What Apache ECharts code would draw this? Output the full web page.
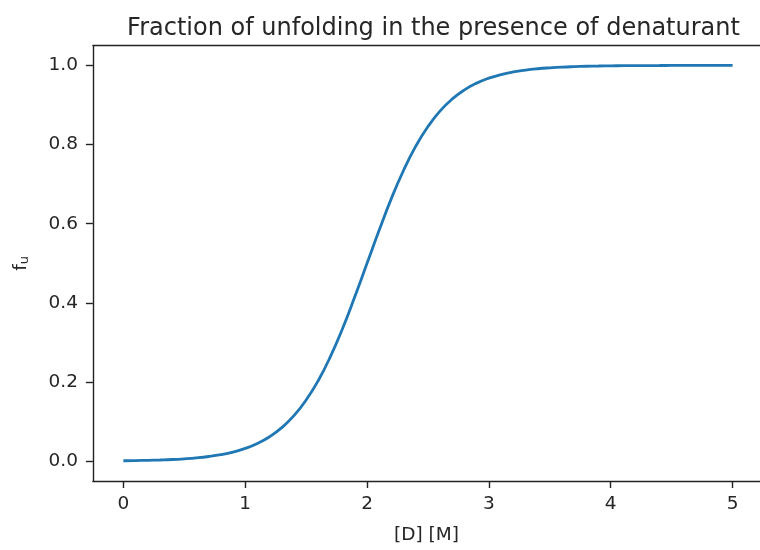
<!DOCTYPE html>
<html>
<head>
<meta charset="utf-8">
<script src="https://cdn.jsdelivr.net/npm/echarts@6/dist/echarts.min.js"></script>
<style>html,body{margin:0;padding:0;background:#fff;}#c{width:760px;height:550px;}</style>
</head>
<body>
<div id="c"></div>
<script>
const denaturant = [0.0,0.1,0.2,0.3,0.4,0.5,0.6,0.7,0.8,0.9,1.0,1.1,1.2,1.3,1.4,1.5,1.6,1.7,1.8,1.9,2.0,2.1,2.2,2.3,2.4,2.5,2.6,2.7,2.8,2.9,3.0,3.1,3.2,3.3,3.4,3.5,3.6,3.7,3.8,3.9,4.0,4.1,4.2,4.3,4.4,4.5,4.6,4.7,4.8,4.9,5.0];
const fractionUnfolded = [0.0011,0.0016,0.0022,0.0031,0.0043,0.0061,0.0085,0.0119,0.0166,0.0232,0.0323,0.0448,0.0618,0.0847,0.115,0.1545,0.204,0.265,0.336,0.416,0.5,0.584,0.664,0.735,0.796,0.8455,0.885,0.9153,0.9382,0.9552,0.9677,0.9768,0.9834,0.9881,0.9915,0.9939,0.9957,0.9969,0.9978,0.9984,0.9989,0.9992,0.9994,0.9996,0.9997,0.9998,0.9998,0.9999,0.9999,0.9999,1.0];
const xTicks = [0,1,2,3,4,5];
const yTicks = [0.0,0.2,0.4,0.6,0.8,1.0];

const chart = echarts.init(document.getElementById('c'), null, {renderer:'canvas'});
const txt = '#262626';
const font = 'DejaVu Sans';
const spine = {color:'#222', width:1.4};
chart.setOption({
  animation:false,
  backgroundColor:'#fff',
  title:{text:'Fraction of unfolding in the presence of denaturant', left:428.5, top:12, textAlign:'center',
    textStyle:{fontFamily:font, fontSize:24, fontWeight:'normal', color:txt}},
  grid:{left:92.9, top:45.6, width:667.1, height:437.6, show:false},
  xAxis:[{type:'value', min:-0.25, max:5.225,
    name:'[D] [M]', nameLocation:'middle', nameGap:45,
    nameTextStyle:{fontFamily:font, fontSize:18.5, color:txt},
    axisLine:{show:true, onZero:false, lineStyle:spine},
    axisTick:{show:true, length:7, lineStyle:spine, customValues:xTicks},
    axisLabel:{fontFamily:font, fontSize:18.5, color:txt, margin:14, customValues:xTicks, formatter:v=>String(v)},
    splitLine:{show:false}},
   {type:'value', position:'top', min:-0.25, max:5.225,
    axisLine:{show:true, onZero:false, lineStyle:spine},
    axisTick:{show:false}, axisLabel:{show:false}, splitLine:{show:false}}],
  yAxis:{type:'value', min:-0.05, max:1.05,
    name:'{f|f}{u|u}', nameLocation:'middle', nameGap:62, nameRotate:90,
    nameTextStyle:{fontFamily:font, fontSize:18.5, color:txt,
      rich:{f:{fontFamily:font, fontSize:18.5, color:txt, verticalAlign:'bottom', lineHeight:24},
            u:{fontFamily:font, fontSize:13, color:txt, verticalAlign:'bottom', lineHeight:14}}},
    axisLine:{show:true, onZero:false, lineStyle:spine},
    axisTick:{show:true, length:7, lineStyle:spine, customValues:yTicks},
    axisLabel:{fontFamily:font, fontSize:18.5, color:txt, margin:15, customValues:yTicks, formatter:v=>v.toFixed(1)},
    splitLine:{show:false}},
  series:[{type:'line', xAxisIndex:0, data:denaturant.map((d,i)=>[d,fractionUnfolded[i]]), showSymbol:false, smooth:true,
    lineStyle:{color:'#1f77b4', width:2.8}, clip:false}]
});
</script>
</body>
</html>
